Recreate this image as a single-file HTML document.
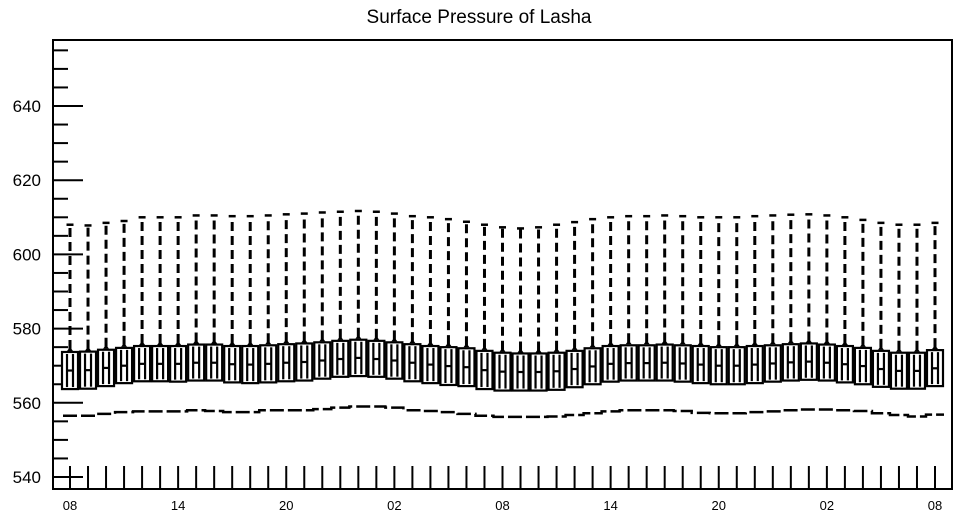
<!DOCTYPE html>
<html><head><meta charset="utf-8"><style>
body{margin:0;background:#fff;}
svg{display:block;font-family:"Liberation Sans",sans-serif;}
</style></head><body>
<svg id="chart" width="958" height="518" viewBox="0 0 958 518" xmlns="http://www.w3.org/2000/svg">
<text x="479" y="23" text-anchor="middle" font-size="19">Surface Pressure of Lasha</text>
<rect x="53" y="40" width="899" height="449" fill="none" stroke="#000" stroke-width="2"/>
<g id="yaxis"></g>
<g id="xaxis"></g>
<g id="series"></g>
</svg>
<script>
const xLabels = ["08","14","20","02","08","14","20","02","08"];
const yTicks = [540,560,580,600,620,640];
const maxVals = [608,607.8,608.5,609,610,610,610, 610.5,610.5,610.3,610.3,610.5,610.8,611, 611.3,611.5,611.7,611.5,611,610.3,610, 609.5,608.8,608,607.3,607,607.3,608, 608.7,609.5,610,610.3,610.3,610.5,610.3, 610,610,610,610.3,610.5,610.7,610.8, 610.5,610,609.3,608.5,608,608,608.5];
const q3Vals = [573.7,573.8,574.3,574.8,575.3,575.3,575.3, 575.7,575.7,575.3,575.3,575.5,575.8,576, 576.3,576.7,577,576.7,576.3,575.8,575.3, 575,574.7,574,573.5,573.3,573.3,573.5, 574,574.7,575.3,575.5,575.5,575.7,575.5, 575.3,575,575,575.3,575.5,575.8,576, 575.7,575.3,574.8,574,573.5,573.5,574.2];
const medVals = [568.7,568.8,569.4,570,570.5,570.5,570.5, 570.8,570.8,570.4,570.3,570.5,570.8,571, 571.4,571.8,572.1,571.8,571.4,570.8,570.3, 569.9,569.6,568.8,568.4,568.3,568.3,568.5, 569.1,569.8,570.5,570.7,570.7,570.8,570.6, 570.3,570,570,570.3,570.6,570.9,571.1, 570.8,570.4,569.9,569.1,568.6,568.6,569.3];
const q1Vals = [563.7,563.8,564.5,565.3,565.8,565.8,565.7, 566,566,565.5,565.3,565.5,565.8,566, 566.5,567,567.2,567,566.5,565.8,565.3, 564.8,564.5,563.7,563.3,563.3,563.3,563.5, 564.2,565,565.7,566,566,566,565.7, 565.3,565,565,565.3,565.7,566,566.2, 566,565.5,565,564.3,563.8,563.8,564.5];
const minVals = [556.5,556.5,557,557.5,557.7,557.7,557.7, 558,557.8,557.5,557.5,558,558,558, 558.3,558.7,559,559,558.7,558,557.8, 557.5,557,556.5,556.2,556.2,556.2,556.3, 556.7,557.2,557.7,558,558,558,557.8, 557.3,557.2,557.2,557.5,557.7,558,558.2, 558.2,558,557.8,557.2,556.7,556.3,556.8];

const NS="http://www.w3.org/2000/svg";
const n = maxVals.length;
function xPos(i){ return 70 + i*(935-70)/(n-1); }
function yPos(v){ return 477 - (v-540)*3.71; }
function mk(parent, tag, attrs){ const e=document.createElementNS(NS,tag); for(const k in attrs) e.setAttribute(k,attrs[k]); parent.appendChild(e); return e; }

const ya=document.getElementById('yaxis');
for(let v=540; v<=655; v+=5){
  const major = yTicks.includes(v);
  const t=mk(ya,'line',{x1:53,x2:major?83:68,y1:yPos(v),y2:yPos(v),stroke:'#000','stroke-width':2});
  
  
}
yTicks.forEach(v=>{
  const t=mk(ya,'text',{x:41,y:yPos(v)+6,'text-anchor':'end','font-size':17});
  t.textContent=v;
  
  
});
const xa=document.getElementById('xaxis');
for(let i=0;i<n;i++){
  const t=mk(xa,'line',{x1:xPos(i),x2:xPos(i),y1:489,y2:466,stroke:'#000','stroke-width':2});
  
  
}
xLabels.forEach((l,k)=>{
  const t=mk(xa,'text',{x:xPos(k*6),y:510,'text-anchor':'middle','font-size':13});
  t.textContent=l;
  
  
});

const s=document.getElementById('series');
const pts=[]; for(let i=0;i<n;i++){ pts.push((xPos(i)-9)+','+yPos(minVals[i])); pts.push((xPos(i)+9)+','+yPos(minVals[i])); }
const ml=mk(s,'polyline',{points:pts.join(' '),fill:'none',stroke:'#000','stroke-width':2.5,'stroke-dasharray':'14 4','stroke-dashoffset':'-2'});


for(let i=0;i<n;i++){
  const x=xPos(i), g=mk(s,'g',{});
  
  
  const yT=yPos(q3Vals[i]), yB=yPos(q1Vals[i]), yM=yPos(medVals[i]), yX=yPos(maxVals[i]);
  mk(g,'line',{x1:x,x2:x,y1:yT-3,y2:yX,stroke:'#000','stroke-width':3,'stroke-dasharray':'9 5'});
  mk(g,'line',{x1:x-3.5,x2:x+3.5,y1:yX,y2:yX,stroke:'#000','stroke-width':2.5});
  mk(g,'polygon',{points:(x-3)+','+(yT-1)+' '+(x+3)+','+(yT-1)+' '+x+','+(yT-5),fill:'#000'});
  mk(g,'rect',{x:x-8,y:yT,width:16,height:yB-yT,fill:'#fff',stroke:'#000','stroke-width':2.2});
  mk(g,'line',{x1:x-3,x2:x-3,y1:yT+2,y2:yB-2,stroke:'#000','stroke-width':2.2});
  mk(g,'line',{x1:x+3,x2:x+3,y1:yT+2,y2:yB-2,stroke:'#000','stroke-width':2.2});
  mk(g,'line',{x1:x-3,x2:x+3,y1:yM,y2:yM,stroke:'#000','stroke-width':2.2});
}
</script>
</body></html>
